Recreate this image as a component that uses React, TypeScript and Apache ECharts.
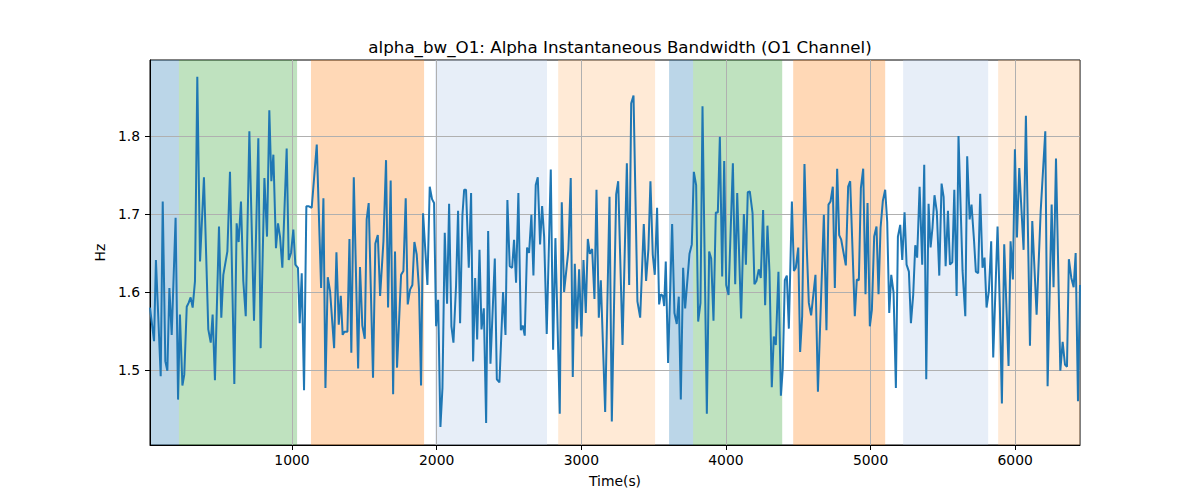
import React, { useEffect, useRef } from "react";
import * as echarts from "echarts";

const times = [
  18, 46, 59, 92, 106, 124, 138, 152, 168, 195, 212, 225, 242, 255, 272, 285, 299, 313, 329, 345,
  364, 391, 421, 438, 451, 467, 495, 511, 525, 553, 571, 601, 617, 631, 647, 663, 680, 705, 737, 767,
  783, 809, 827, 843, 857, 871, 889, 903, 917, 933, 963, 977, 993, 1009, 1023, 1041, 1053, 1067, 1083, 1099,
  1113, 1136, 1171, 1201, 1217, 1231, 1247, 1263, 1291, 1307, 1323, 1337, 1350, 1362, 1383, 1397, 1410, 1427, 1457, 1470,
  1486, 1503, 1516, 1530, 1560, 1576, 1593, 1609, 1632, 1650, 1664, 1682, 1699, 1712, 1726, 1754, 1770, 1786, 1800, 1816,
  1832, 1846, 1862, 1878, 1892, 1906, 1936, 1952, 1968, 1982, 1996, 2010, 2026, 2040, 2056, 2072, 2086, 2102, 2116, 2134,
  2148, 2162, 2178, 2190, 2203, 2222, 2238, 2252, 2266, 2280, 2296, 2310, 2326, 2342, 2356, 2372, 2402, 2416, 2434, 2459,
  2476, 2489, 2505, 2522, 2535, 2549, 2565, 2582, 2595, 2609, 2625, 2639, 2655, 2669, 2685, 2699, 2715, 2729, 2743, 2761,
  2789, 2805, 2821, 2851, 2865, 2881, 2911, 2927, 2941, 2955, 2969, 2985, 3001, 3015, 3031, 3045, 3059, 3075, 3091, 3105,
  3121, 3135, 3165, 3195, 3211, 3241, 3255, 3285, 3315, 3331, 3345, 3361, 3388, 3407, 3432, 3448, 3464, 3478, 3494, 3508,
  3524, 3538, 3550, 3564, 3573, 3584, 3600, 3628, 3644, 3660, 3674, 3688, 3704, 3718, 3748, 3764, 3778, 3794, 3808, 3824,
  3838, 3868, 3884, 3898, 3914, 3930, 3944, 3958, 3974, 3988, 4002, 4018, 4048, 4064, 4078, 4105, 4124, 4138, 4151, 4165,
  4184, 4197, 4211, 4227, 4241, 4257, 4271, 4287, 4301, 4317, 4331, 4345, 4363, 4380, 4393, 4407, 4421, 4435, 4456, 4470,
  4483, 4500, 4513, 4527, 4543, 4559, 4573, 4589, 4619, 4636, 4677, 4695, 4709, 4723, 4739, 4753, 4769, 4783, 4797, 4829,
  4845, 4859, 4891, 4905, 4919, 4933, 4949, 4965, 4979, 4995, 5009, 5025, 5041, 5055, 5069, 5085, 5101, 5115, 5129, 5143,
  5159, 5175, 5189, 5205, 5219, 5235, 5249, 5265, 5279, 5295, 5309, 5322, 5339, 5357, 5371, 5385, 5401, 5415, 5428, 5442,
  5458, 5475, 5491, 5505, 5519, 5535, 5549, 5565, 5579, 5595, 5608, 5636, 5655, 5668, 5685, 5698, 5715, 5728, 5744, 5758,
  5774, 5788, 5802, 5818, 5834, 5848, 5878, 5894, 5908, 5924, 5954, 5968, 5984, 5998, 6012, 6028, 6058, 6074, 6102, 6118,
  6148, 6176, 6208, 6224, 6252, 6265, 6282, 6312, 6328, 6344, 6358, 6371, 6388, 6404, 6418, 6434, 6448,
];

const values = [
  1.58, 1.537, 1.641, 1.492, 1.716, 1.511, 1.499, 1.605, 1.545, 1.695, 1.462, 1.571, 1.48, 1.494, 1.581, 1.586, 1.593, 1.58, 1.614, 1.876,
  1.639, 1.747, 1.552, 1.535, 1.571, 1.487, 1.684, 1.567, 1.622, 1.652, 1.754, 1.482, 1.688, 1.664, 1.716, 1.614, 1.569, 1.806, 1.563, 1.797,
  1.528, 1.746, 1.671, 1.833, 1.742, 1.776, 1.656, 1.688, 1.671, 1.631, 1.784, 1.641, 1.65, 1.68, 1.635, 1.631, 1.56, 1.624, 1.474, 1.71,
  1.71, 1.708, 1.789, 1.605, 1.72, 1.477, 1.619, 1.601, 1.528, 1.651, 1.558, 1.595, 1.545, 1.549, 1.549, 1.668, 1.522, 1.747, 1.502, 1.632,
  1.557, 1.54, 1.693, 1.714, 1.49, 1.662, 1.673, 1.595, 1.665, 1.769, 1.58, 1.743, 1.469, 1.652, 1.503, 1.622, 1.627, 1.72, 1.584, 1.603,
  1.609, 1.664, 1.648, 1.603, 1.48, 1.701, 1.609, 1.735, 1.719, 1.714, 1.556, 1.59, 1.427, 1.477, 1.676, 1.585, 1.713, 1.556, 1.535, 1.608,
  1.704, 1.56, 1.698, 1.731, 1.731, 1.631, 1.727, 1.511, 1.618, 1.539, 1.654, 1.552, 1.579, 1.432, 1.678, 1.508, 1.643, 1.488, 1.484, 1.6,
  1.545, 1.718, 1.633, 1.631, 1.667, 1.612, 1.727, 1.551, 1.557, 1.544, 1.657, 1.65, 1.699, 1.621, 1.737, 1.747, 1.661, 1.71, 1.671, 1.546,
  1.757, 1.526, 1.669, 1.444, 1.715, 1.6, 1.654, 1.746, 1.491, 1.636, 1.553, 1.629, 1.543, 1.641, 1.573, 1.668, 1.649, 1.655, 1.591, 1.731,
  1.567, 1.615, 1.446, 1.722, 1.434, 1.725, 1.742, 1.532, 1.765, 1.609, 1.842, 1.852, 1.588, 1.567, 1.687, 1.614, 1.655, 1.742, 1.648, 1.622,
  1.708, 1.584, 1.597, 1.595, 1.582, 1.639, 1.509, 1.687, 1.573, 1.559, 1.594, 1.462, 1.631, 1.579, 1.649, 1.661, 1.754, 1.737, 1.562, 1.586,
  1.838, 1.444, 1.652, 1.643, 1.563, 1.702, 1.702, 1.799, 1.62, 1.768, 1.609, 1.596, 1.765, 1.61, 1.727, 1.566, 1.7, 1.635, 1.728, 1.729,
  1.701, 1.61, 1.614, 1.629, 1.618, 1.705, 1.583, 1.685, 1.626, 1.478, 1.543, 1.532, 1.626, 1.467, 1.502, 1.615, 1.621, 1.553, 1.716, 1.627,
  1.631, 1.657, 1.523, 1.569, 1.764, 1.656, 1.586, 1.57, 1.622, 1.472, 1.699, 1.551, 1.712, 1.716, 1.735, 1.605, 1.758, 1.673, 1.667, 1.634,
  1.735, 1.742, 1.569, 1.616, 1.615, 1.733, 1.758, 1.597, 1.714, 1.556, 1.577, 1.671, 1.684, 1.597, 1.682, 1.717, 1.731, 1.69, 1.573, 1.622,
  1.599, 1.477, 1.671, 1.686, 1.641, 1.702, 1.635, 1.626, 1.56, 1.597, 1.66, 1.644, 1.735, 1.635, 1.763, 1.488, 1.713, 1.657, 1.682, 1.724,
  1.703, 1.621, 1.739, 1.722, 1.633, 1.704, 1.635, 1.638, 1.731, 1.595, 1.8, 1.627, 1.569, 1.774, 1.693, 1.712, 1.667, 1.626, 1.624, 1.726,
  1.631, 1.644, 1.58, 1.601, 1.665, 1.516, 1.684, 1.58, 1.457, 1.661, 1.505, 1.665, 1.616, 1.783, 1.67, 1.759, 1.654, 1.826, 1.531, 1.691,
  1.571, 1.703, 1.806, 1.479, 1.712, 1.606, 1.771, 1.499, 1.536, 1.507, 1.504, 1.642, 1.618, 1.606, 1.65, 1.46, 1.609,
];

const spanStarts = [18, 218, 1131, 1989, 2840, 3607, 3773, 4465, 5225, 5882];
const spanEnds = [218, 1035, 1913, 2763, 3510, 3773, 4389, 5101, 5813, 6448];
const spanColors = [
  "#1f77b4", "#2ca02c", "#ff7f0e", "#aec7e8", "#ffbb78",
  "#1f77b4", "#2ca02c", "#ff7f0e", "#aec7e8", "#ffbb78",
];

const xTicks = [1000, 2000, 3000, 4000, 5000, 6000];
const yTicks = [1.5, 1.6, 1.7, 1.8];
const xMin = 18;
const xMax = 6448;
const yMin = 1.4038;
const yMax = 1.8974;

const titleText = "alpha_bw_O1: Alpha Instantaneous Bandwidth (O1 Channel)";
const FONT = "DejaVu Sans";

export default function App() {
  const ref = useRef<HTMLDivElement>(null);

  useEffect(() => {
    if (!ref.current) return;
    const chart = echarts.init(ref.current, null, { renderer: "svg" });
    const data = times.map((t, i) => [t, values[i]]);
    const areas = spanStarts.map((s, i) => [
      { xAxis: s, itemStyle: { color: spanColors[i], opacity: 0.3 } },
      { xAxis: spanEnds[i] },
    ]);
    chart.setOption({
      animation: false,
      backgroundColor: "#ffffff",
      title: {
        text: titleText,
        left: 615,
        top: 33,
        textAlign: "center",
        textStyle: { fontFamily: FONT, fontSize: 16.7, fontWeight: "normal", color: "#000" },
      },
      grid: {
        left: 150,
        right: 120,
        top: 60,
        bottom: 55,
        show: true,
        borderColor: "#000",
        borderWidth: 1,
        backgroundColor: "transparent",
      },
      xAxis: {
        type: "value",
        min: xMin,
        max: xMax,
        z: 2,
        name: "Time(s)",
        nameLocation: "middle",
        nameGap: 29,
        nameTextStyle: { fontFamily: FONT, fontSize: 13.9, color: "#000" },
        axisLine: { show: true, onZero: false, lineStyle: { color: "#000", width: 1 } },
        axisTick: { show: true, length: 5, customValues: xTicks, lineStyle: { color: "#000" } },
        axisLabel: {
          customValues: xTicks,
          margin: 8,
          color: "#000",
          fontFamily: FONT,
          fontSize: 13.9,
          formatter: (v: number) => String(v),
        },
        splitLine: { show: true, lineStyle: { color: "#b0b0b0", width: 1 } },
      },
      yAxis: {
        type: "value",
        min: yMin,
        max: yMax,
        z: 2,
        name: "Hz",
        nameLocation: "middle",
        nameGap: 38,
        nameRotate: 90,
        nameTextStyle: { fontFamily: FONT, fontSize: 13.9, color: "#000" },
        axisLine: { show: true, onZero: false, lineStyle: { color: "#000", width: 1 } },
        axisTick: { show: true, length: 5, customValues: yTicks, lineStyle: { color: "#000" } },
        axisLabel: {
          customValues: yTicks,
          margin: 10,
          color: "#000",
          fontFamily: FONT,
          fontSize: 13.9,
          formatter: (v: number) => v.toFixed(1),
        },
        splitLine: { show: true, lineStyle: { color: "#b0b0b0", width: 1 } },
      },
      series: [
        {
          name: "spans",
          type: "line",
          z: 1,
          data: [],
          symbol: "none",
          markArea: { silent: true, z: 1, data: areas },
        },
        {
          name: "alpha_bw_O1",
          type: "line",
          z: 3,
          data,
          showSymbol: false,
          symbol: "none",
          lineStyle: { color: "#1f77b4", width: 2 },
          itemStyle: { color: "#1f77b4" },
          clip: true,
        },
      ],
    });
    return () => chart.dispose();
  }, []);

  return (
    <div
      ref={ref}
      style={{ position: "absolute", left: 0, top: 0, width: 1200, height: 500 }}
    />
  );
}
